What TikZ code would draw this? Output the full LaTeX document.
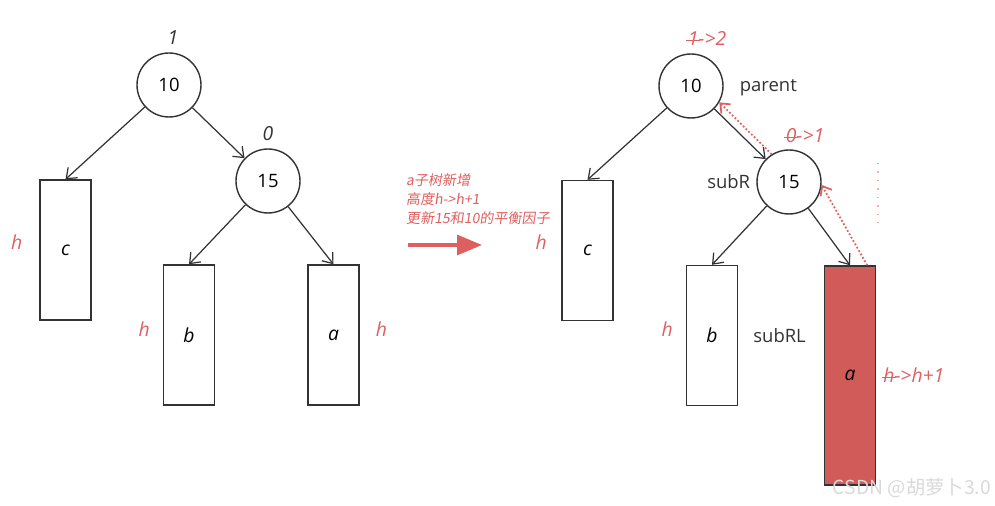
\documentclass[tikz,border=0pt]{standalone}
\usepackage{fontspec}
\setmainfont{Open Sans}
\newfontfamily\cjk[FakeSlant=0.15]{Noto Sans CJK SC}
\newfontfamily\cjkup{Noto Sans CJK SC}
\usetikzlibrary{arrows.meta, positioning}
\definecolor{hired}{HTML}{DE5F5F}
\definecolor{subfill}{HTML}{D05B59}
\definecolor{inkgray}{HTML}{333333}
\newcommand\struck[1]{\setbox0\hbox{#1}\rlap{\kern-1pt\rule[0.42ex]{\dimexpr\wd0+2pt\relax}{0.6pt}}\box0}

\begin{document}
\begin{tikzpicture}[
    x=0.02cm, y=-0.02cm,
    keynode/.style={circle, draw=inkgray, line width=0.8pt, minimum size=1.28cm, inner sep=0pt, font=\fontsize{10.5}{12}\selectfont},
    tree/.style={draw=inkgray, line width=0.8pt, minimum width=1.02cm, minimum height=2.8cm, inner sep=0pt, font=\itshape\fontsize{11}{13}\selectfont},
    grown/.style={tree, fill=subfill, minimum height=4.38cm},
    bf/.style={text=hired, font=\itshape\fontsize{11}{13}\selectfont, inner sep=1pt},
    oldbf/.style={bf, text=inkgray},
    tag/.style={text=inkgray, font=\fontsize{10.5}{12}\selectfont},
    arr/.style={-{Straight Barb[length=1.8mm,width=2.8mm]}, line width=0.7pt, draw=inkgray},
    darr/.style={-{Straight Barb[length=1.6mm,width=2.6mm]}, line width=1pt, draw=hired, dash pattern=on 1pt off 1.2pt},
    bigarr/.style={-{Triangle[length=5mm,width=4mm]}, line width=1.8pt, draw=hired},
]
\useasboundingbox (0,0) rectangle (995,506);

% Before insertion
\node[keynode] (l10) at (169,85) {10};
\node[keynode] (l15) at (268,181) {15};
\node[tree] (lc) at (65.5,250) {c};
\node[tree] (lb) at (189,335) {b};
\node[tree] (la) at (333.5,335) {a};

\node[oldbf, above=0.12cm of l10, xshift=0.08cm] {1};
\node[oldbf, above=0.12cm of l15] {0};
\node[bf, left=0.3cm of lc, yshift=0.16cm] {h};
\node[bf, left=0.22cm of lb, yshift=0.12cm] {h};
\node[bf, right=0.28cm of la, yshift=0.12cm] {h};

\draw[arr] (l10) -- (lc.north);
\draw[arr] (l10) -- (l15);
\draw[arr] (l15) -- (lb.north);
\draw[arr] (l15) -- (la.north);

% Note + arrow
\node[text=hired, font=\cjk\fontsize{8}{10.8}\selectfont, align=left, anchor=west] (note) at (400,199) {a子树新增\\高度h->h+1\\更新15和10的平衡因子};
\coordinate (gofrom) at (408,245);
\coordinate (goto) at (482,245);
\draw[bigarr] (gofrom) -- (goto);

% After insertion
\node[keynode] (r10) at (691,86) {10};
\node[keynode] (r15) at (789,182) {15};
\node[tree] (rc) at (587.5,250.5) {c};
\node[tree] (rb) at (712,335.5) {b};
\node[grown] (ra) at (850,375.5) {a};

\node[bf, above=0.12cm of r10, xshift=0.32cm] {\struck{1}->2};
\node[bf, above=0.1cm of r15, xshift=0.32cm] {\struck{0}->1};
\node[tag, right=0.2cm of r10, yshift=-0.04cm] {parent};
\node[tag, left=0cm of r15] {subR};
\node[tag, right=0.18cm of rb] {subRL};
\node[bf, left=0.25cm of rc, yshift=0.16cm] {h};
\node[bf, left=0.22cm of rb, yshift=0.12cm] {h};
\node[bf, right=0.1cm of ra] {\struck{h}->h+1};

\draw[arr] (r10) -- (rc.north);
\draw[arr] (r10) -- (r15);
\draw[arr] (r15) -- (rb.north);
\draw[arr] (r15) -- (ra.north);

\draw[darr] (r15.122) -- (r10.-30);
\draw[darr] ([xshift=-0.18cm]ra.north east) -- (r15.-5);

\coordinate (ghosttop) at (878,163);
\coordinate (ghostbot) at (878,228);
\draw[hired!50, line width=0.7pt, dash pattern=on 0.8pt off 4pt] (ghosttop) -- (ghostbot);

% Watermark
\node[font=\cjkup\fontsize{11}{13}\selectfont, text=white!70!gray] at (912,488) {CSDN @胡萝卜3.0};

\end{tikzpicture}
\end{document}
